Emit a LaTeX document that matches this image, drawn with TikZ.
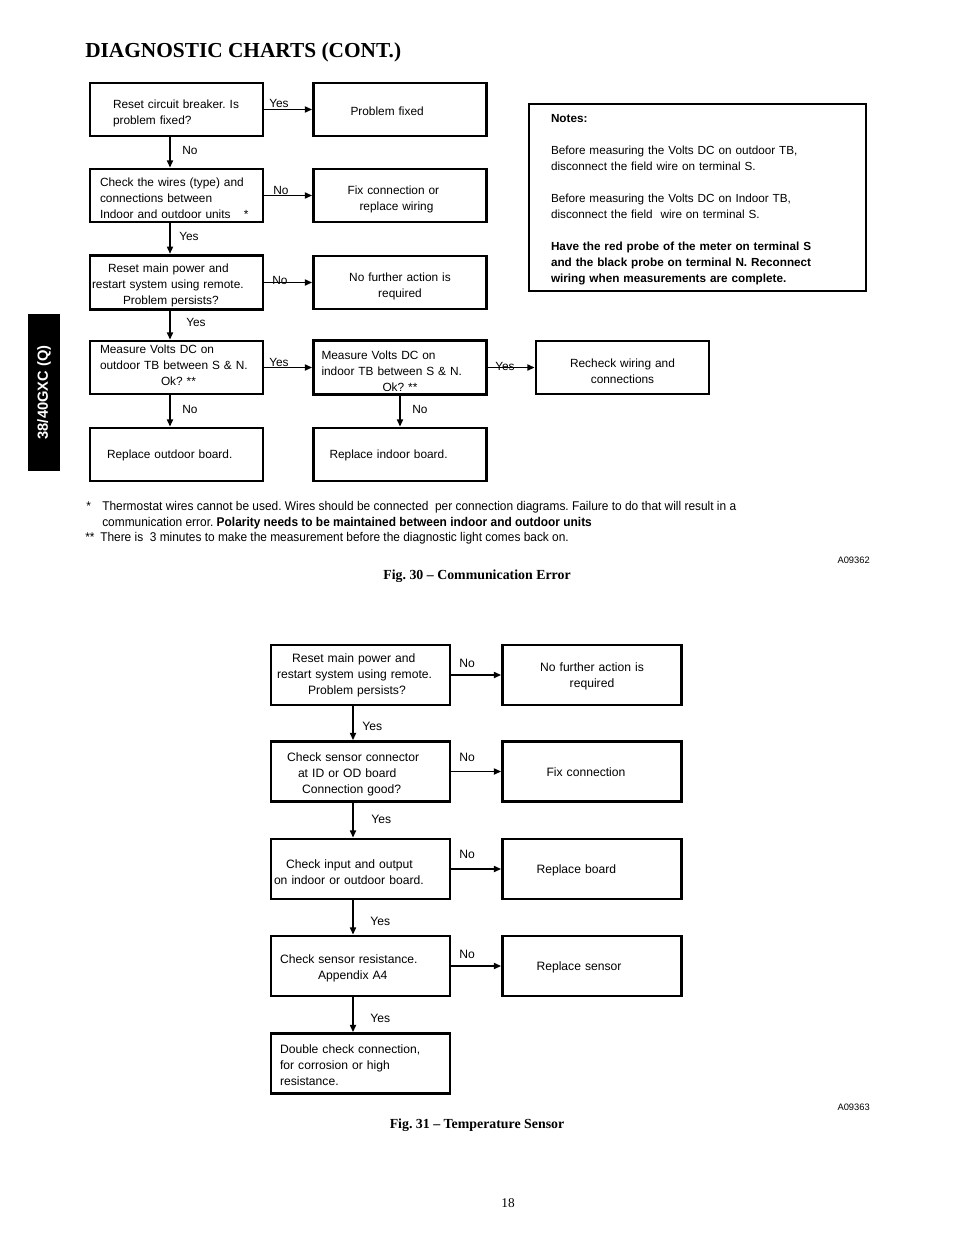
\documentclass[tikz,border=0pt]{standalone}
\usepackage{fontspec}
\setmainfont{Liberation Serif}
\newfontfamily\arial{Liberation Sans}
\newfontfamily\arialn[FakeStretch=0.94]{Liberation Sans}
\usetikzlibrary{arrows.meta}
\frenchspacing
\newdimen\pxu \pxu=0.75pt
\newcommand{\pxskip}[1]{\hspace*{#1\pxu}}
\newcommand{\boxfont}{\arial\fontsize{8.9}{12}\selectfont}
\newcommand{\boxfontb}{\arial\fontsize{9.1}{12}\selectfont}
\begin{document}
\begin{tikzpicture}[x=0.75pt,y=-0.75pt,
  box/.style={draw, line width=2pt, inner xsep=0pt, inner ysep=2pt, align=left, font=\boxfont},
  tbox/.style={box, text width=129.75pt, minimum height=39.75pt},
  bbox/.style={box, text width=134.25pt, minimum height=45pt, font=\boxfontb},
  down/.style={execute at begin node={\rule{0pt}{\dimexpr 6.6pt+#1\pxu*2\relax}}},
  up/.style={execute at end node={\rule[\dimexpr -#1\pxu*2\relax]{0pt}{0pt}}},
  arr/.style={line width=1.4pt, -{Triangle[length=5.5pt,width=4.5pt]}},
  lab/.style={font=\boxfont, inner sep=0pt, anchor=west},
  blab/.style={font=\boxfontb, inner sep=0pt, anchor=west},
  fn/.style={font=\arialn\fontsize{9.5}{12}\selectfont, inner sep=0pt, anchor=base west},
  figcap/.style={font=\bfseries\fontsize{10.4}{12}\selectfont, inner sep=0pt, anchor=base},
  figcode/.style={font=\arial\fontsize{7}{8}\selectfont, inner sep=0pt, anchor=base east}]
\useasboundingbox (0,0) rectangle (954,1235);

% title and side tab
\node[font=\bfseries\fontsize{16}{18}\selectfont, inner sep=0pt, anchor=base west] (title) at (85,57) {DIAGNOSTIC CHARTS (CONT.)};
\node[fill=black, text=white, rotate=90, minimum width=117.75pt, minimum height=24pt, inner sep=0pt,
      font=\arial\bfseries\fontsize{11}{12}\selectfont] (tab) at (44,392.5) {38/40GXC (Q)};

% ---------- Fig. 30 ----------
\node[tbox, down=4] (b1) at (176.5,109.5) {\pxskip{23}Reset circuit breaker. Is\\\pxskip{23}problem fixed?};
\node[tbox, down=2] (b1r) at (400,109.5) {\pxskip{37}Problem fixed};
\node[tbox, down=3] (b2) at (176.5,195.5) {\pxskip{10}Check the wires (type) and\\\pxskip{10}connections between\\\pxskip{10}Indoor and outdoor units\hspace{10pt}*};
\node[tbox, down=4] (b2r) at (400,195.5) {\pxskip{34}Fix connection or\\\pxskip{46}replace wiring};
\node[tbox, down=3] (b3) at (176.5,282.5) {\pxskip{18}Reset main power and\\\pxskip{2}restart system using remote.\\\pxskip{33}Problem persists?};
\node[tbox, align=center, down=4] (b3r) at (400,282.5) {No further action is\\required};
\node[tbox, up=2] (b4) at (176.5,367.5) {\pxskip{10}Measure Volts DC on\\\pxskip{10}outdoor TB between S \& N.\\\pxskip{71}Ok? **};
\node[tbox, down=4] (b5) at (400,367.5) {\pxskip{8}Measure Volts DC on\\\pxskip{8}indoor TB between S \& N.\\\pxskip{69}Ok? **};
\node[tbox, align=center, down=4] (b6) at (622.5,367.5) {Recheck wiring and\\connections};
\node[tbox, down=1] (b7) at (176.5,454.5) {\pxskip{17}Replace outdoor board.};
\node[tbox, down=1] (b8) at (400,454.5) {\pxskip{16}Replace indoor board.};

\node[draw, line width=0.8pt, align=left, font=\arial\fontsize{8.8}{12}\selectfont, text width=219.75pt, inner xsep=16.5pt,
      minimum height=140.25pt, down=2] (notes) at (697.5,197.5)
 {\textbf{Notes:}\\[12pt]Before measuring the Volts DC on outdoor TB,\\disconnect the field wire on terminal S.\\[12pt]Before measuring the Volts DC on Indoor TB,\\disconnect the field\ \ wire on terminal S.\\[12pt]\textbf{Have the red probe of the meter on terminal S}\\\textbf{and the black probe on terminal N. Reconnect}\\\textbf{wiring when measurements are complete.}};

\draw[arr] (b1) -- (b1r);
\draw[arr] (b2) -- (b2r);
\draw[arr] (b3) -- (b3r);
\draw[arr] (b4) -- (b5);
\draw[arr] (b5) -- (b6);
\draw[arr] ([xshift=-4.875pt]b1.south) -- ([xshift=-4.875pt]b2.north);
\draw[arr] ([xshift=-4.875pt]b2.south) -- ([xshift=-4.875pt]b3.north);
\draw[arr] ([xshift=-4.875pt]b3.south) -- ([xshift=-4.875pt]b4.north);
\draw[arr] ([xshift=-4.875pt]b4.south) -- ([xshift=-4.875pt]b7.north);
\draw[arr] (b5.south) -- (b8.north);

\node[lab] (l1) at (269,103) {Yes};
\node[lab] (l2) at (182,150) {No};
\node[lab] (l3) at (273,190) {No};
\node[lab] (l4) at (179,236) {Yes};
\node[lab] (l5) at (272,280) {No};
\node[lab] (l6) at (186,322) {Yes};
\node[lab] (l7) at (269,362) {Yes};
\node[lab] (l8) at (495,366) {Yes};
\node[lab] (l9) at (182,409) {No};
\node[lab] (l10) at (412,409) {No};

% footnotes
\node[fn] (s1) at (86,510) {*};
\node[fn] (f1) at (102,510) {Thermostat wires cannot be used. Wires should be connected\ \ per connection diagrams. Failure to do that will result in a};
\node[fn] (f2) at (102,526) {communication error. \textbf{Polarity needs to be maintained between indoor and outdoor units}};
\node[fn] (s2) at (85,541) {**};
\node[fn] (f3) at (100,541) {There is\ \ 3 minutes to make the measurement before the diagnostic light comes back on.};

\node[figcode] (c30) at (870,563) {A09362};
\node[figcap] (cap30) at (477,579) {Fig. 30 -- Communication Error};

% ---------- Fig. 31 ----------
\node[bbox] (c1) at (360.5,675) {\pxskip{21}Reset main power and\\\pxskip{6}restart system using remote.\\\pxskip{37}Problem persists?};
\node[bbox, align=center, down=1] (c1r) at (592,675) {No further action is\\required};
\node[bbox, down=2.5] (c2) at (360.5,771.5) {\pxskip{16}Check sensor connector\\\pxskip{27}at ID or OD board\\\pxskip{31}Connection good?};
\node[bbox, down=1] (c2r) at (592,771.5) {\pxskip{44}Fix connection};
\node[bbox, down=3] (c3) at (360.5,869) {\pxskip{15}Check input and output\\\pxskip{3}on indoor or outdoor board.};
\node[bbox, down=1] (c3r) at (592,869) {\pxskip{34}Replace board};
\node[bbox, down=2] (c4) at (360.5,966) {\pxskip{9}Check sensor resistance.\\\pxskip{47}Appendix A4};
\node[bbox, down=1] (c4r) at (592,966) {\pxskip{34}Replace sensor};
\node[bbox, down=2] (c5) at (360.5,1063.5) {\pxskip{9}Double check connection,\\\pxskip{9}for corrosion or high\\\pxskip{9}resistance.};

\draw[arr] (c1) -- (c1r);
\draw[arr] (c2) -- (c2r);
\draw[arr] (c3) -- (c3r);
\draw[arr] (c4) -- (c4r);
\draw[arr] ([xshift=-5.625pt]c1.south) -- ([xshift=-5.625pt]c2.north);
\draw[arr] ([xshift=-5.625pt]c2.south) -- ([xshift=-5.625pt]c3.north);
\draw[arr] ([xshift=-5.625pt]c3.south) -- ([xshift=-5.625pt]c4.north);
\draw[arr] ([xshift=-5.625pt]c4.south) -- ([xshift=-5.625pt]c5.north);

\node[blab] (m1) at (459,663) {No};
\node[blab] (m2) at (362,726) {Yes};
\node[blab] (m3) at (459,757) {No};
\node[blab] (m4) at (371,819) {Yes};
\node[blab] (m5) at (459,854) {No};
\node[blab] (m6) at (370,921) {Yes};
\node[blab] (m7) at (459,954) {No};
\node[blab] (m8) at (370,1018) {Yes};

\node[figcode] (c31) at (870,1110) {A09363};
\node[figcap] (cap31) at (477,1128) {Fig. 31 -- Temperature Sensor};
\node[font=\fontsize{10}{12}\selectfont, inner sep=0pt, anchor=base] (page) at (508,1207) {18};
\end{tikzpicture}
\end{document}
